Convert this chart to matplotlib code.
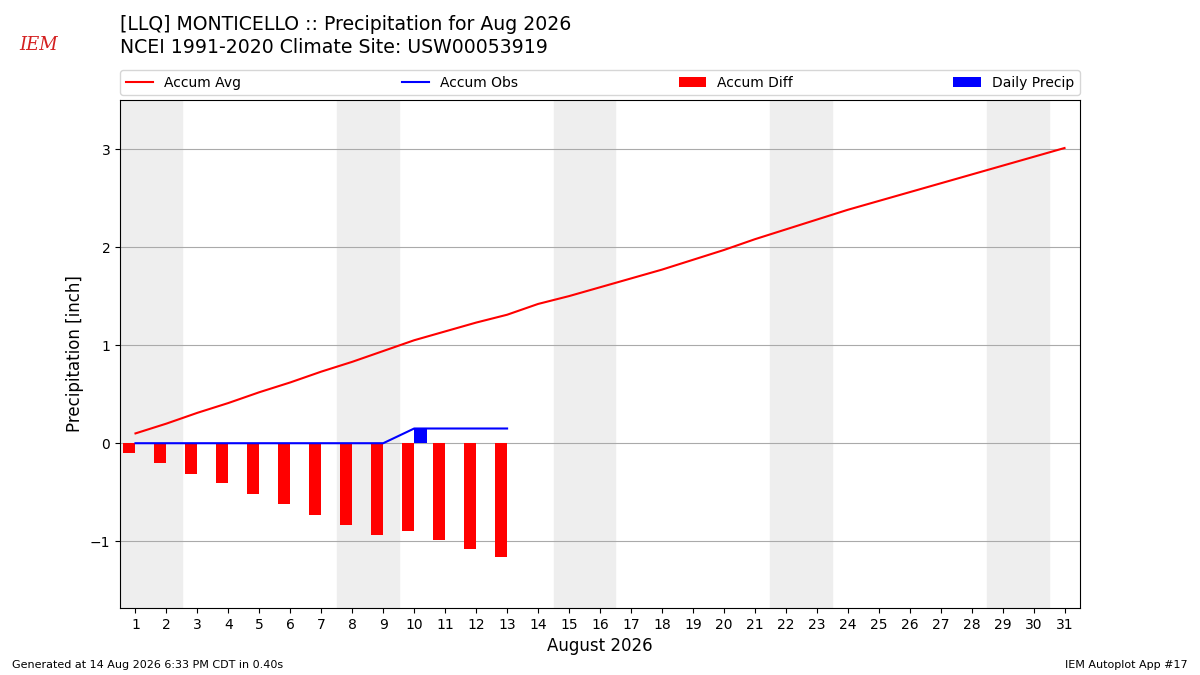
import numpy as np
import matplotlib
matplotlib.use("Agg")
import matplotlib.pyplot as plt

# data
days = list(range(1, 32))
accum_avg = [0.10, 0.20, 0.31, 0.41, 0.52, 0.62, 0.73, 0.83, 0.94, 1.05,
             1.14, 1.23, 1.31, 1.42, 1.50, 1.59, 1.68, 1.77, 1.87, 1.97,
             2.08, 2.18, 2.28, 2.38, 2.47, 2.56, 2.65, 2.74, 2.83, 2.92,
             3.01]
obs_days = list(range(1, 14))
daily_precip = [0, 0, 0, 0, 0, 0, 0, 0, 0, 0.15, 0, 0, 0]
weekends = [1, 8, 15, 22, 29]

accum_obs = np.cumsum(daily_precip)
accum_diff = accum_obs - np.array(accum_avg[:len(obs_days)])

fig = plt.figure(figsize=(12, 6.75), dpi=100)
ax = fig.add_axes([0.1, 0.0993, 0.8, 0.7526])

# weekend shading
for d in weekends:
    ax.axvspan(d - 0.5, d + 1.5, color="#eeeeee", zorder=0)

ax.plot(days, accum_avg, color="r", lw=1.5, label="Accum Avg", zorder=3)
ax.plot(obs_days, accum_obs, color="b", lw=1.5, label="Accum Obs", zorder=3)
ax.bar(obs_days, accum_diff, width=-0.4, align="edge", color="r",
       label="Accum Diff", zorder=2)
ax.bar(obs_days, daily_precip, width=0.4, align="edge", color="b",
       label="Daily Precip", zorder=2)

ax.set_xlim(0.5, 31.5)
ax.set_ylim(-1.68, 3.5)
ax.set_xticks(days)
ax.set_yticks([-1, 0, 1, 2, 3])
ax.grid(True, axis="y", color="#aaaaaa", lw=0.8)
ax.set_axisbelow(True)
ax.tick_params(labelsize=10)
ax.set_xlabel("August 2026", fontsize=12)
ax.set_ylabel("Precipitation [inch]", fontsize=12)

fig.legend(loc="lower left", bbox_to_anchor=(0.1, 0.859, 0.8, 0.037),
           ncol=4, mode="expand", fontsize=10, borderaxespad=0)

fig.text(0.1, 0.978, "[LLQ] MONTICELLO :: Precipitation for Aug 2026\n"
         "NCEI 1991-2020 Climate Site: USW00053919",
         fontsize=13.6, va="top", ha="left", linespacing=1.25)
fig.text(0.032, 0.933, "IEM", color="#d42020", fontsize=13,
         family="DejaVu Serif", style="italic", ha="center", va="center")

fig.text(0.01, 0.008, "Generated at 14 Aug 2026 6:33 PM CDT in 0.40s",
         fontsize=8, ha="left", va="bottom")
fig.text(0.99, 0.008, "IEM Autoplot App #17", fontsize=8,
         ha="right", va="bottom")

fig.savefig("out.png", dpi=100)
